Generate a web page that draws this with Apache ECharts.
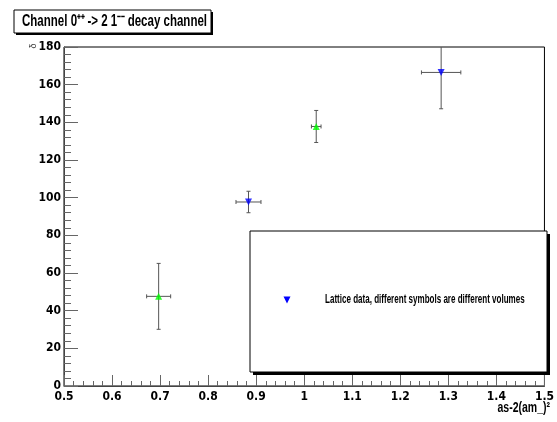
<!DOCTYPE html>
<html>
<head>
<meta charset="utf-8">
<script src="https://cdn.jsdelivr.net/npm/echarts@6/dist/echarts.min.js"></script>
<style>
  html, body { margin: 0; padding: 0; background: #fff; }
  #main { width: 557px; height: 422px; }
</style>
</head>
<body>
<div id="main"></div>
<script>
// lattice points, two volumes
var volA_x = [0.697, 1.025];
var volA_y = [47.6, 137.8];
var volA_xErr = [0.025, 0.010];
var volA_yErr = [17.5, 8.5];

var volB_x = [0.884, 1.285];
var volB_y = [97.7, 166.5];
var volB_xErr = [0.026, 0.041];
var volB_yErr = [5.7, 19.3];

var xTicks = [0.5, 0.6, 0.7, 0.8, 0.9, 1, 1.1, 1.2, 1.3, 1.4, 1.5];
var yTicks = [0, 20, 40, 60, 80, 100, 120, 140, 160, 180];

var FONT = "'DejaVu Sans Condensed', 'Liberation Sans', Arial, sans-serif";
var GFONT = "'Liberation Sans', Arial, sans-serif";

var errData = [];
for (var i = 0; i < volA_x.length; i++) {
    errData.push([volA_x[i], volA_y[i], volA_xErr[i], volA_yErr[i]]);
}
for (var i = 0; i < volB_x.length; i++) {
    errData.push([volB_x[i], volB_y[i], volB_xErr[i], volB_yErr[i]]);
}

function renderErr(params, api) {
    var x = api.value(0), y = api.value(1), dx = api.value(2), dy = api.value(3);
    var c = api.coord([x, y]);
    var l = api.coord([x - dx, y]);
    var r = api.coord([x + dx, y]);
    var t = api.coord([x, y + dy]);
    var b = api.coord([x, y - dy]);
    var st = { stroke: '#555', lineWidth: 1 };
    return {
        type: 'group',
        children: [
            { type: 'line', shape: { x1: l[0], y1: c[1], x2: r[0], y2: c[1] }, style: st },
            { type: 'line', shape: { x1: c[0], y1: t[1], x2: c[0], y2: b[1] }, style: st },
            { type: 'line', shape: { x1: l[0], y1: c[1] - 2, x2: l[0], y2: c[1] + 2 }, style: st },
            { type: 'line', shape: { x1: r[0], y1: c[1] - 2, x2: r[0], y2: c[1] + 2 }, style: st },
            { type: 'line', shape: { x1: c[0] - 2, y1: t[1], x2: c[0] + 2, y2: t[1] }, style: st },
            { type: 'line', shape: { x1: c[0] - 2, y1: b[1], x2: c[0] + 2, y2: b[1] }, style: st }
        ]
    };
}

var myChart = echarts.init(document.getElementById('main'));
var option = {
    animation: false,
    grid: {
        left: 64, right: 8, top: 47, bottom: 36,
        show: true, borderColor: '#000', borderWidth: 1, backgroundColor: 'transparent'
    },
    xAxis: {
        type: 'value', min: 0.5, max: 1.5, interval: 0.1,
        axisLine: { show: true, lineStyle: { color: '#444' } },
        axisTick: { show: true, inside: true, length: 11, lineStyle: { color: '#666' } },
        minorTick: { show: true, splitNumber: 5, length: 5, lineStyle: { color: '#666' } },
        splitLine: { show: false },
        axisLabel: {
            color: '#000', fontFamily: FONT, fontWeight: 'bold', fontSize: 12, margin: 5,
            formatter: function (v) { return xTicks.indexOf(Math.round(v * 10) / 10) >= 0 ? String(Math.round(v * 10) / 10) : ''; }
        }
    },
    yAxis: {
        type: 'value', min: 0, max: 180, interval: 20,
        axisLine: { show: true, lineStyle: { color: '#444' } },
        axisTick: { show: true, inside: true, length: 14, lineStyle: { color: '#666' } },
        minorTick: { show: true, splitNumber: 5, length: 7, lineStyle: { color: '#666' } },
        splitLine: { show: false },
        axisLabel: {
            color: '#000', fontFamily: FONT, fontWeight: 'bold', fontSize: 12, margin: 3,
            formatter: function (v) { return yTicks.indexOf(v) >= 0 ? String(v) : ''; }
        }
    },
    series: [
        {
            type: 'custom', name: 'err', renderItem: renderErr, data: errData, clip: true, z: 1,
            encode: { x: 0, y: 1 }
        },
        {
            type: 'scatter', name: 'volA', symbol: 'triangle', symbolSize: 7,
            itemStyle: { color: '#00ff00' }, z: 3,
            data: volA_x.map(function (x, i) { return [x, volA_y[i]]; })
        },
        {
            type: 'scatter', name: 'volB', symbol: 'triangle', symbolRotate: 180, symbolSize: 7,
            itemStyle: { color: '#0000ff' }, z: 3,
            data: volB_x.map(function (x, i) { return [x, volB_y[i]]; })
        }
    ],
    graphic: [
        // title box
        { type: 'rect', x: 16, y: 12, shape: { width: 197, height: 23 }, style: { fill: '#000' }, z: 10 },
        { type: 'rect', x: 14, y: 10, shape: { width: 197, height: 23 }, style: { fill: '#fff', stroke: '#000', lineWidth: 1 }, z: 11 },
        {
            type: 'text', x: 22, y: 22, scaleX: 0.72, z: 12,
            style: {
                text: 'Channel 0\u207A\u207A -> 2 1\u207B\u207B decay channel',
                fontFamily: GFONT, fontWeight: 'bold', fontSize: 16, fill: '#000', verticalAlign: 'middle'
            }
        },
        // legend box
        { type: 'rect', x: 253, y: 234, shape: { width: 297, height: 141 }, style: { fill: '#000' }, z: 10 },
        { type: 'rect', x: 250, y: 231, shape: { width: 297, height: 141 }, style: { fill: '#fff', stroke: '#000', lineWidth: 1 }, z: 11 },
        {
            type: 'polygon', z: 12,
            shape: { points: [[283.5, 296.5], [290.5, 296.5], [287, 303.5]] },
            style: { fill: '#0000ff' }
        },
        {
            type: 'text', x: 325, y: 300, scaleX: 0.67, z: 12,
            style: {
                text: 'Lattice data, different symbols are different volumes',
                fontFamily: GFONT, fontWeight: 'bold', fontSize: 12, fill: '#000', verticalAlign: 'middle'
            }
        },
        // axis titles
        {
            type: 'text', x: 550, y: 408, scaleX: 0.75, z: 12,
            style: {
                text: 'as-2(am_)\u00B2', fontFamily: GFONT, fontWeight: 'bold', fontSize: 14,
                fill: '#000', align: 'right', verticalAlign: 'middle'
            }
        },
        {
            type: 'text', x: 34, y: 46, rotation: Math.PI / 2, z: 12,
            style: { text: 'δ', fontFamily: GFONT, fontSize: 9, fill: '#333', align: 'center', verticalAlign: 'middle' }
        }
    ]
};
myChart.setOption(option);
</script>
</body>
</html>
